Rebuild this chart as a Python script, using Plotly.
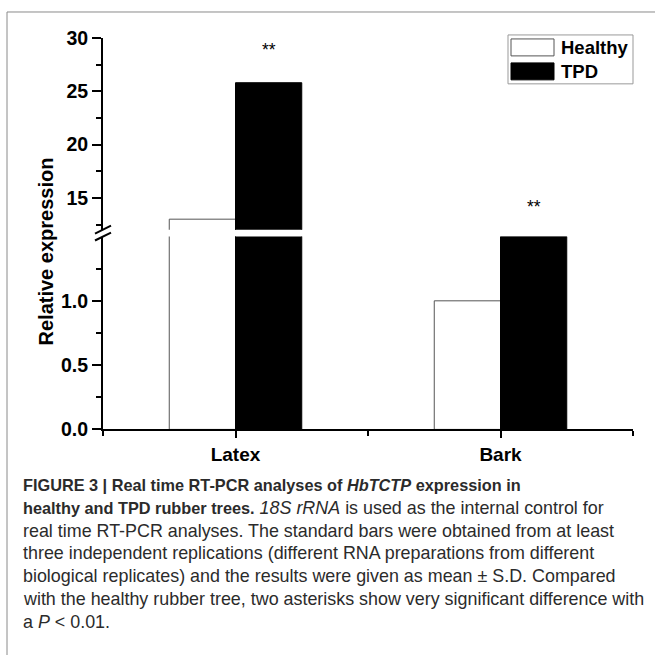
import plotly.graph_objects as go

# ---- data ----
categories = ["Latex", "Bark"]
healthy = [13.0, 1.0]
tpd = [25.8, 1.5]
series_names = ["Healthy", "TPD"]
lower_ticks = [0.0, 0.5, 1.0]
upper_ticks = [15, 20, 25, 30]
significance = ["**", "**"]

W, H = 655, 666
# the photographed page maps page-y to picture-y as ~0.969*y + 9; place things by picture pixels
SY, OY = 0.969, 9.0
def fx(px):
    return px / W
def fy(py):
    return 1 - ((py - OY) / SY) / H

FONT = "Liberation Sans, Arial, sans-serif"
xpos = list(range(len(categories)))

fig = go.Figure()
styles = {
    "Healthy": dict(color="white", line=dict(color="#555555", width=1)),
    "TPD": dict(color="black", line=dict(color="black", width=1)),
}
for name, vals in zip(series_names, [healthy, tpd]):
    for ax in ["y", "y2"]:
        fig.add_trace(go.Bar(x=xpos, y=vals, name=name, marker=styles[name],
                             xaxis="x", yaxis=ax, showlegend=False, hoverinfo="skip"))

tickfont = dict(family=FONT, size=19.5, color="black", weight="bold")

fig.update_layout(
    width=W, height=H,
    margin=dict(l=0, r=0, t=0, b=0),
    paper_bgcolor="white", plot_bgcolor="white",
    barmode="group", bargap=0.5, bargroupgap=0,
    showlegend=False,
    xaxis=dict(domain=[fx(103), fx(633)], range=[-0.5, 1.5], anchor="y",
               tickmode="array", tickvals=xpos, ticktext=categories,
               ticks="outside", ticklen=7, tickwidth=2, tickcolor="black",
               showline=True, linecolor="black", linewidth=2, showgrid=False,
               zeroline=False, tickfont=dict(family=FONT, size=19, color="black", weight="bold"),
               minor=dict(tickmode="array", tickvals=[-0.5, 0.5, 1.5],
                          ticks="outside", ticklen=5, tickwidth=2, tickcolor="black")),
    yaxis=dict(domain=[fy(428.3), fy(235)], range=[0, 1.5], anchor="x",
               tickmode="array", tickvals=lower_ticks,
               ticktext=[f"{v:.1f}" for v in lower_ticks],
               ticks="outside", ticklen=9, tickwidth=2, tickcolor="black",
               showline=True, linecolor="black", linewidth=2, showgrid=False,
               zeroline=False, tickfont=tickfont,
               minor=dict(tickmode="array", tickvals=[0.25, 0.75, 1.25],
                          ticks="outside", ticklen=5, tickwidth=2, tickcolor="black")),
    yaxis2=dict(domain=[fy(228.3), fy(36)], range=[12, 30], anchor="x",
                tickmode="array", tickvals=upper_ticks,
                ticks="outside", ticklen=9, tickwidth=2, tickcolor="black",
                showline=True, linecolor="black", linewidth=2, showgrid=False,
                zeroline=False, tickfont=tickfont,
                minor=dict(tickmode="array", tickvals=[12.5, 17.5, 22.5, 27.5],
                           ticks="outside", ticklen=5, tickwidth=2, tickcolor="black")),
)

shapes = []
# axis break marks
for yc in (228, 235):
    shapes.append(dict(type="line", xref="paper", yref="paper",
                       x0=fx(95), y0=fy(yc + 4), x1=fx(111), y1=fy(yc - 4),
                       line=dict(color="black", width=2)))
# frame lines
shapes.append(dict(type="line", xref="paper", yref="paper", x0=fx(7), y0=fy(10), x1=1, y1=fy(10),
                   line=dict(color="#8a8a8a", width=1)))
shapes.append(dict(type="line", xref="paper", yref="paper", x0=fx(7), y0=fy(10), x1=fx(7), y1=0,
                   line=dict(color="#8a8a8a", width=1)))
# legend
shapes.append(dict(type="rect", xref="paper", yref="paper", x0=fx(508), y0=fy(82), x1=fx(633), y1=fy(33),
                   line=dict(color="#999999", width=1), fillcolor="white"))
shapes.append(dict(type="rect", xref="paper", yref="paper", x0=fx(511), y0=fy(54), x1=fx(554), y1=fy(37),
                   line=dict(color="#555555", width=1), fillcolor="white"))
shapes.append(dict(type="rect", xref="paper", yref="paper", x0=fx(511), y0=fy(78), x1=fx(554), y1=fy(61),
                   line=dict(color="black", width=1), fillcolor="black"))
fig.update_layout(shapes=shapes)

ann = []
legend_font = dict(family=FONT, size=18.5, color="black", weight="bold")
for name, yc in zip(series_names, (46, 70)):
    ann.append(dict(text=name, xref="paper", yref="paper", x=fx(559), y=fy(yc),
                    xanchor="left", yanchor="middle", showarrow=False, font=legend_font))
# y title
ann.append(dict(text="Relative expression", xref="paper", yref="paper", x=fx(46), y=fy(250),
                xanchor="center", yanchor="middle", textangle=-90, showarrow=False,
                font=dict(family=FONT, size=20, color="black", weight="bold")))
# significance stars
for i, (s, yc) in zip(xpos, zip(significance, (48, 205))):
    ann.append(dict(text=s, xref="x", yref="paper", x=i + 0.125, y=fy(yc),
                    xanchor="center", yanchor="middle", showarrow=False,
                    font=dict(family=FONT, size=17.5, color="black")))

B = '<span style="font-size:16.3px">'
caption = [
    "<b>FIGURE 3 | Real time RT-PCR analyses of <i>HbTCTP</i> expression in</b>",
    B + "<b>healthy and TPD rubber trees.</b></span> <i>18S rRNA</i> is used as the internal control for",
    "real time RT-PCR analyses. The standard bars were obtained from at least",
    "three independent replications (different RNA preparations from different",
    "biological replicates) and the results were given as mean ± S.D. Compared",
    "with the healthy rubber tree, two asterisks show very significant difference with",
    "a <i>P</i> &lt; 0.01.",
]
for k, line in enumerate(caption):
    size = 16.3 if k == 0 else 17.9
    ann.append(dict(text=line, xref="paper", yref="paper", x=fx(21), y=fy(484 + 22.8 * k),
                    xanchor="left", yanchor="middle", showarrow=False, align="left",
                    font=dict(family=FONT, size=size, color="#2b2b2b")))
fig.update_layout(annotations=ann)

fig.write_html(
    "out.html",
    config={"displayModeBar": False},
    post_script=(
        "document.documentElement.style.margin='0';"
        "document.body.style.margin='0';document.body.style.padding='0';"
        "document.body.style.overflow='hidden';"
        "var d=document.getElementById('{plot_id}');"
        "d.style.position='fixed';d.style.top='0px';d.style.left='0px';"
    ),
)
